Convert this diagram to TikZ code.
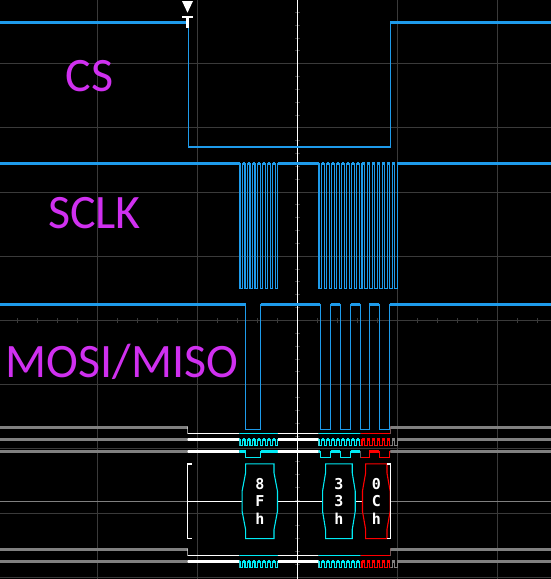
\documentclass[tikz,border=0pt]{standalone}
\usepackage{fontspec}
\newfontfamily\labelfont{Carlito}
\newfontfamily\hexfont{DejaVu Sans Mono Bold}
\definecolor{sigblue}{RGB}{30,155,235}
\definecolor{gridc}{RGB}{58,58,58}
\definecolor{busgray}{RGB}{128,128,128}
\definecolor{buscyan}{RGB}{0,235,245}
\definecolor{busred}{RGB}{255,0,0}
\definecolor{labelmag}{RGB}{208,48,240}
\tikzset{
  thinw/.style={line width=1.1pt},
  thickw/.style={line width=3pt},
  gridl/.style={draw=gridc,line width=1pt},
  lbl/.style={font=\labelfont\fontsize{48}{48}\selectfont,text=labelmag,inner sep=0pt},
  hexbox/.style={font=\hexfont\fontsize{15}{17.4}\selectfont,text=white,align=center,inner sep=0pt,minimum height=74.3pt},
  boxline/.style={line width=1.1pt},
}
% CS waveform: #1 high y, #2 low y, #3 fall x
\newcommand\CSwave[3]{%
  \draw[thinw] (-2,#1) -- (#3,#1) -- (#3,#2) -- (390.4,#2) -- (390.4,#1) -- (553,#1);
  \draw[thickw] (-2,#1) -- (#3,#1) (390.4,#1) -- (553,#1);}
% SCLK waveform
\newcommand\SCLKwave[2]{%
  \draw[thinw] (-2,#1) -- (240,#1)
    \foreach \i in {0,...,7}{ -- (240+5.014*\i,#1) -- (240+5.014*\i,#2) -- (242.507+5.014*\i,#2) -- (242.507+5.014*\i,#1)}
    -- (319,#1)
    \foreach \i in {0,...,15}{ -- (319+5.058*\i,#1) -- (319+5.058*\i,#2) -- (321.529+5.058*\i,#2) -- (321.529+5.058*\i,#1)}
    -- (553,#1);
  \draw[thickw] (-2,#1) -- (240,#1)
    \foreach \i in {0,...,6}{ (242.507+5.014*\i,#1) -- (245.021+5.014*\i,#1)}
    (277.6,#1) -- (319,#1)
    \foreach \i in {0,...,14}{ (321.529+5.058*\i,#1) -- (324.058+5.058*\i,#1)}
    (397.4,#1) -- (553,#1);}
% MOSI waveform
\newcommand\MOSIwave[2]{%
  \draw[thinw] (-2,#1) -- (245.7,#1) -- (245.7,#2) -- (260.7,#2) -- (260.7,#1)
    -- (320.3,#1) -- (320.3,#2) -- (330.7,#2) -- (330.7,#1)
    -- (340.3,#1) -- (340.3,#2) -- (350.7,#2) -- (350.7,#1)
    -- (360.3,#1) -- (360.3,#2) -- (369.3,#2) -- (369.3,#1)
    -- (379.3,#1) -- (379.3,#2) -- (389.7,#2) -- (389.7,#1) -- (553,#1);
  \draw[thickw] (-2,#1) -- (245.7,#1) (260.7,#1) -- (320.3,#1) (330.7,#1) -- (340.3,#1)
    (350.7,#1) -- (360.3,#1) (369.3,#1) -- (379.3,#1) (389.7,#1) -- (553,#1);}
% colour a bus row by time region
\newcommand\busdraw[1]{%
  \begin{scope}[color=busgray]\clip (-5,-5) rectangle (187.5,600); #1\end{scope}
  \begin{scope}[color=white]\clip (187.5,-5) rectangle (239.3,600); #1\end{scope}
  \begin{scope}[color=buscyan]\clip (239.3,-5) rectangle (277.8,600); #1\end{scope}
  \begin{scope}[color=white]\clip (277.8,-5) rectangle (318.5,600); #1\end{scope}
  \begin{scope}[color=buscyan]\clip (318.5,-5) rectangle (360.5,600); #1\end{scope}
  \begin{scope}[color=busred]\clip (360.5,-5) rectangle (390.4,600); #1\end{scope}
  \begin{scope}[color=busgray]\clip (390.4,-5) rectangle (560,600); #1\end{scope}}
\begin{document}
\begin{tikzpicture}[x=1pt,y=-1pt]
\fill[black] (0,0) rectangle (551,579);
\useasboundingbox (0,0) rectangle (551,579);
% grid
\foreach \x in {97.4,197.4,397.4,497.4} \draw[gridl] (\x,0) -- (\x,579);
\foreach \k in {1,...,9} \draw[gridl] (0,64.2*\k-0.5) -- (551,64.2*\k-0.5);
\foreach \j in {0,...,26} \draw[gridl] (17.4+20*\j,318) -- (17.4+20*\j,323);
\foreach \m in {1,...,45} \draw[gridl] (294.9,12.84*\m-0.5) -- (299.9,12.84*\m-0.5);
\draw[white,line width=1.3pt] (297.4,0) -- (297.4,579);
% analog channels
\begin{scope}[color=sigblue]
  \CSwave{22.3}{147}{188.3}
  \SCLKwave{163.5}{288.3}
  \MOSIwave{304.3}{429.3}
\end{scope}
% trigger marker
\fill[white] (182,1) -- (193,1) -- (187.5,12.7) -- cycle;
\fill[white] (182,15.5) rectangle (193,18);
\fill[white] (186,15.5) rectangle (189,28);
% bus decode rows
\busdraw{\CSwave{427.3}{433.3}{187.5}}
\busdraw{\SCLKwave{439.3}{445.3}}
\busdraw{\MOSIwave{451.3}{457.3}}
\busdraw{\CSwave{549.3}{555.3}{187.5}}
\busdraw{\SCLKwave{561.3}{567.3}}
% decoded bytes
\coordinate (eL) at (0,501.2);
\coordinate (bL) at (187.8,501.2);
\coordinate (bR) at (390.7,501.2);
\coordinate (eR) at (551,501.2);
\node[hexbox,minimum width=35pt] (b1) at (259.8,501.2) {8\\F\\h};
\node[hexbox,minimum width=32.3pt] (b2) at (338.9,501.2) {3\\3\\h};
\node[hexbox,minimum width=27.3pt] (b3) at (376.3,501.2) {0\\C\\h};
\draw[busgray,line width=1pt] (eL) -- (bL) (bR) -- (eR);
\draw[white,line width=1pt] (bL) -- (b1.west) (b1.east) -- (b2.west) (b2.east) -- (b3.west);
\foreach \b/\d/\c in {b1/3.5/buscyan,b2/3/buscyan,b3/3.2/busred}{
  \draw[boxline,\c] ([xshift=\d pt]\b.north west) -- ([xshift=\d pt,yshift=-9pt]\b.north west)
    -- ([yshift=10pt]\b.west) -- ([yshift=-10pt]\b.west)
    -- ([xshift=\d pt,yshift=9pt]\b.south west) -- ([xshift=\d pt]\b.south west)
    -- ([xshift=-\d pt]\b.south east) -- ([xshift=-\d pt,yshift=9pt]\b.south east)
    -- ([yshift=-10pt]\b.east) -- ([yshift=10pt]\b.east)
    -- ([xshift=-\d pt,yshift=-9pt]\b.north east) -- ([xshift=-\d pt]\b.north east) -- cycle;
}
\draw[white,line width=1.1pt] (191.7,464) -- (187.8,464) -- (187.8,538.3) -- (191.7,538.3);
\draw[white,line width=1.1pt] (386.5,464) -- (390.7,464) -- (390.7,538.3) -- (386.5,538.3);
% labels
\node[lbl,anchor=base] (cs) at (89.3,91.3) {CS};
\node[lbl,anchor=base] (sclk) at (94.5,228.5) {SCLK};
\node[lbl,anchor=base] (mosi) at (121.8,377) {MOSI/MISO};
\end{tikzpicture}
\end{document}
